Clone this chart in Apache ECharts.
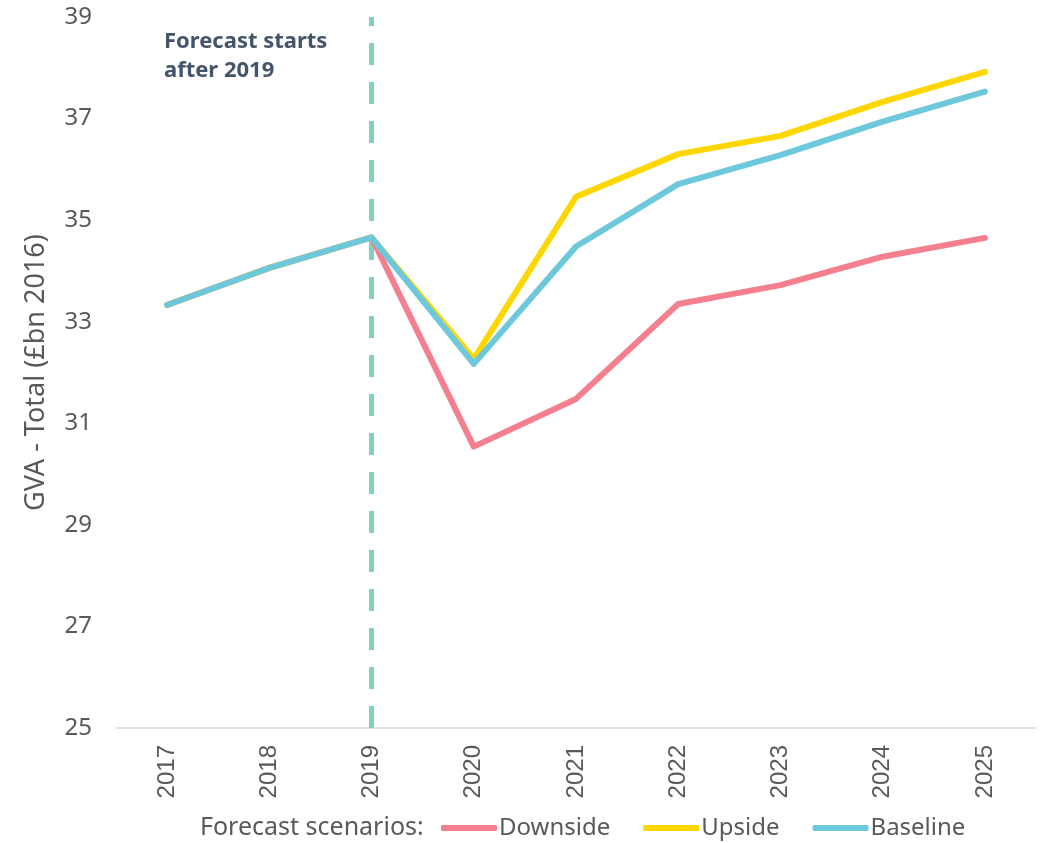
<!DOCTYPE html>
<html>
<head>
<meta charset="utf-8">
<script src="https://cdn.jsdelivr.net/npm/echarts@6/dist/echarts.min.js"></script>
<style>
html,body{margin:0;padding:0;background:#fff;}
#chart{width:1043px;height:843px;}
</style>
</head>
<body>
<div id="chart"></div>
<script>
var years = ['2017','2018','2019','2020','2021','2022','2023','2024','2025'];
var downside = [33.33, 34.06, 34.66, 30.54, 31.48, 33.35, 33.72, 34.28, 34.65];
var upside   = [33.33, 34.06, 34.66, 32.27, 35.46, 36.30, 36.66, 37.33, 37.92];
var baseline = [33.33, 34.06, 34.66, 32.17, 34.48, 35.71, 36.28, 36.94, 37.53];
var forecastStart = '2019';

var font = 'Noto Sans';
var grey = '#595959';

var myChart = echarts.init(document.getElementById('chart'));

function lineSeries(name, data, color) {
    return {
        name: name,
        type: 'line',
        data: data,
        symbol: 'none',
        lineStyle: {color: color, width: 6, cap: 'round', join: 'round'},
        itemStyle: {color: color},
        z: 3
    };
}

var series = [
    lineSeries('Downside', downside, '#f4808f'),
    lineSeries('Upside', upside, '#ffd700'),
    lineSeries('Baseline', baseline, '#6ec8dc')
];
// forecast marker
series[0].markLine = {
    silent: true,
    symbol: ['none', 'none'],
    label: {show: false},
    lineStyle: {color: '#83d0bf', width: 5, type: [22, 17]},
    data: [{xAxis: forecastStart}],
    z: 1
};

option = {
    animation: false,
    backgroundColor: '#fff',
    grid: {left: 116, right: 7, top: 17, bottom: 115, containLabel: false},
    xAxis: {
        type: 'category',
        data: years,
        boundaryGap: true,
        axisLine: {lineStyle: {color: '#d9d9d9', width: 1.5}},
        axisTick: {show: false},
        axisLabel: {rotate: 90, margin: 17, color: grey, fontSize: 24, fontFamily: 'Liberation Sans'}
    },
    yAxis: {
        type: 'value',
        min: 25,
        max: 39,
        interval: 2,
        name: 'GVA - Total (£bn 2016)',
        nameLocation: 'middle',
        nameGap: 66,
        nameTextStyle: {color: grey, fontSize: 27, fontFamily: font},
        axisLine: {show: false},
        axisTick: {show: false},
        splitLine: {show: false},
        axisLabel: {margin: 24, color: grey, fontSize: 24, fontFamily: font}
    },
    legend: {
        left: 436,
        top: 811,
        itemWidth: 56,
        itemHeight: 6,
        itemGap: 33,
        icon: 'roundRect',
        textStyle: {color: grey, fontSize: 24, fontFamily: font, padding: [0, 0, 0, -3]},
        data: ['Downside', 'Upside', 'Baseline']
    },
    graphic: [
        {
            type: 'text',
            left: 200,
            top: 815,
            style: {text: 'Forecast scenarios:', fill: grey, font: '25px "' + font + '"'}
        },
        {
            type: 'text',
            left: 164,
            top: 27,
            style: {
                text: 'Forecast starts\nafter 2019',
                fill: '#44546a',
                font: 'bold 22px "' + font + '"',
                lineHeight: 29
            }
        }
    ],
    series: series
};

myChart.setOption(option);
</script>
</body>
</html>
